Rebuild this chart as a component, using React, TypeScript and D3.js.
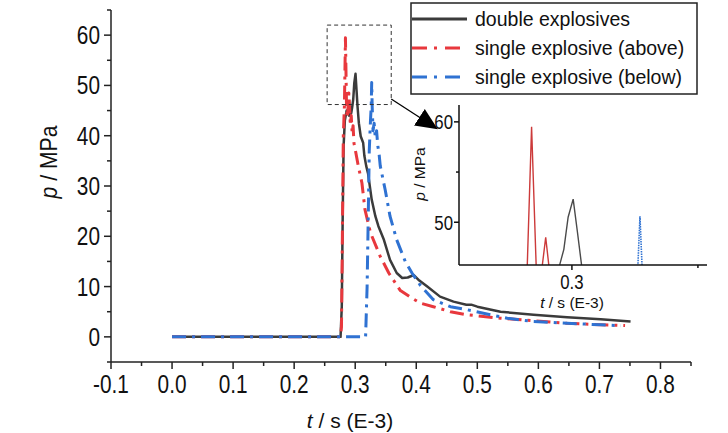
import React from 'react';
import * as d3 from 'd3';

// double explosives
const tDouble = [0, 0.276, 0.278, 0.2795, 0.281, 0.283, 0.286, 0.29, 0.2935, 0.2952, 0.2968, 0.2985, 0.3005, 0.3022, 0.3038, 0.306, 0.309, 0.313, 0.315, 0.318, 0.321, 0.327, 0.333, 0.338, 0.347, 0.357, 0.368, 0.377, 0.386, 0.396, 0.405, 0.418, 0.439, 0.461, 0.482, 0.49, 0.5, 0.538, 0.592, 0.647, 0.702, 0.751];
const pDouble = [0, 0, 6, 24, 38, 43, 45, 44, 44.5, 45.8, 47.3, 50.5, 52.3, 49, 45.8, 42.5, 39.9, 38.6, 36, 34, 32.5, 27.3, 24, 22, 19.3, 15.3, 12.7, 11.7, 11.8, 12.3, 11.2, 10, 8.0, 7.0, 6.4, 6.4, 6.0, 5.0, 4.4, 3.9, 3.5, 3.05];

// single explosive (above)
const tAbove = [0, 0.276, 0.2775, 0.279, 0.2805, 0.2823, 0.284, 0.2858, 0.287, 0.2883, 0.2896, 0.2908, 0.292, 0.2935, 0.295, 0.2965, 0.298, 0.3, 0.305, 0.311, 0.316, 0.325, 0.341, 0.355, 0.374, 0.393, 0.407, 0.428, 0.456, 0.483, 0.538, 0.592, 0.647, 0.702, 0.742];
const pAbove = [0, 0, 2, 20, 40, 45.8, 59.5, 45.8, 43.5, 45.8, 48.5, 45.8, 42, 44, 40.5, 42, 38.5, 37.3, 34, 30.6, 25.3, 20.7, 16, 12.7, 9.2, 7.7, 6.7, 6.0, 5.0, 4.4, 3.7, 3.2, 2.7, 2.4, 2.25];

// single explosive (below)
const tBelow = [0, 0.317, 0.3195, 0.3215, 0.323, 0.325, 0.3262, 0.327, 0.3278, 0.3292, 0.331, 0.333, 0.335, 0.337, 0.339, 0.341, 0.349, 0.357, 0.368, 0.382, 0.393, 0.407, 0.428, 0.456, 0.483, 0.51, 0.549, 0.592, 0.647, 0.702, 0.735];
const pBelow = [0, 0, 10, 25, 37, 43, 45.8, 50.6, 45.8, 41, 42.5, 39.5, 41, 38, 36.5, 34, 29.3, 24, 19.3, 15, 12.7, 10.2, 7.4, 6.0, 5.4, 4.7, 3.7, 3.05, 2.7, 2.4, 2.2];

const seriesNames = ['double explosives', 'single explosive (above)', 'single explosive (below)'];
const xTicks = [-0.1, 0, 0.1, 0.2, 0.3, 0.4, 0.5, 0.6, 0.7, 0.8];
const yTicks = [0, 10, 20, 30, 40, 50, 60];
const insetXTicks = [0.3];
const insetYTicks = [50, 60];
const zoomBox = { t: [0.254, 0.359], p: [46.2, 62] };

const W = 728;
const H = 433;
const sans = "'Liberation Sans', Arial, sans-serif";

const colors = ['#3b3b3b', '#e8383d', '#2f72d2'];
const insetColors = ['#4a4a4a', '#cc3a3a', '#2f72d2'];
const dashes = [undefined, '14,6,3,6', '14,6,3,6'];

const zip = (t: number[], p: number[]) => t.map((d, i) => [d, p[i]] as [number, number]);
const series = [zip(tDouble, pDouble), zip(tAbove, pAbove), zip(tBelow, pBelow)];

// condensed look of the tick labels (no narrow font installed)
const Narrow = ({ x, y, anchor, size, children }: { x: number; y: number; anchor: string; size: number; children: React.ReactNode }) => (
  <text transform={`translate(${x},${y}) scale(0.8,1)`} textAnchor={anchor} fontFamily={sans} fontSize={size} fill="#111">
    {children}
  </text>
);

export default function App() {
  // main axes
  const x = d3.scaleLinear().domain([-0.1, 0.85]).range([111, 691]);
  const y = d3.scaleLinear().domain([-5, 65]).range([362, 10]);
  const line = d3.line<[number, number]>().x(d => x(d[0])).y(d => y(d[1]));

  // inset axes
  const xi = d3.scaleLinear().domain([0.2552, 0.3536]).range([459, 707]);
  const yi = d3.scaleLinear().domain([45.74, 61.68]).range([265, 105]);
  const lineI = d3.line<[number, number]>().x(d => xi(d[0])).y(d => yi(d[1]));

  const xMinor = d3.range(-0.1, 0.851, 0.05);
  const yMinor = d3.range(-5, 65.1, 5);

  return (
    <svg width={W} height={H} style={{ position: 'absolute', left: 0, top: 0, background: '#fff' }}>
      <defs>
        <clipPath id="insetClip">
          <rect x={459} y={105} width={248} height={160} />
        </clipPath>
        <marker id="arrowHead" viewBox="0 0 10 10" refX="9" refY="5" markerWidth="22" markerHeight="22" markerUnits="userSpaceOnUse" orient="auto">
          <path d="M0,0.5 L10,5 L0,9.5 Z" fill="#000" />
        </marker>
      </defs>

      {/* main axes */}
      <g stroke="#222" strokeWidth={1.5}>
        <line x1={x(-0.1)} x2={x(0.85)} y1={362} y2={362} />
        <line x1={111} x2={111} y1={y(-5)} y2={y(65)} />
        {xMinor.map((v, i) => (
          <line key={'xm' + i} x1={x(v)} x2={x(v)} y1={362} y2={i % 2 === 0 ? 369 : 366} />
        ))}
        {yMinor.map((v, i) => (
          <line key={'ym' + i} x1={111} x2={i % 2 === 1 ? 104 : 107} y1={y(v)} y2={y(v)} />
        ))}
      </g>
      {xTicks.map(v => (
        <Narrow key={'xt' + v} x={x(v)} y={393} anchor="middle" size={26}>{v.toFixed(1)}</Narrow>
      ))}
      {yTicks.map(v => (
        <Narrow key={'yt' + v} x={100} y={y(v) + 9} anchor="end" size={26}>{v}</Narrow>
      ))}
      <text x={350} y={428} textAnchor="middle" fontFamily={sans} fontSize={21} fill="#111">
        <tspan fontStyle="italic">t</tspan> / s (E-3)
      </text>
      <text transform="translate(57,162) rotate(-90) scale(0.92,1)" textAnchor="middle" fontFamily={sans} fontSize={23} fill="#111">
        <tspan fontStyle="italic">p</tspan> / MPa
      </text>

      {/* main series */}
      {series.map((s, i) => (
        <path key={'s' + i} d={line(s) ?? ''} fill="none" stroke={colors[i]} strokeWidth={i === 0 ? 2.5 : 3}
          strokeDasharray={dashes[i]} strokeLinejoin="round" />
      ))}

      {/* zoom box + arrow */}
      <rect x={x(zoomBox.t[0])} y={y(zoomBox.p[1])} width={x(zoomBox.t[1]) - x(zoomBox.t[0])}
        height={y(zoomBox.p[0]) - y(zoomBox.p[1])} fill="none" stroke="#333" strokeWidth={1} strokeDasharray="4,3" />
      <line x1={x(zoomBox.t[1])} y1={99} x2={436} y2={128} stroke="#000" strokeWidth={1.3} markerEnd="url(#arrowHead)" />

      {/* inset */}
      <g clipPath="url(#insetClip)">
        {series.map((s, i) => (
          <path key={'i' + i} d={lineI(s) ?? ''} fill="none" stroke={insetColors[i]} strokeWidth={i === 2 ? 1.6 : 1.4}
            strokeDasharray={i === 2 ? '1.5,1' : undefined} />
        ))}
      </g>
      <g stroke="#111" strokeWidth={1.5}>
        <line x1={459} x2={707} y1={265} y2={265} />
        <line x1={459} x2={459} y1={265} y2={105} />
        {insetXTicks.map(v => <line key={'ixt' + v} x1={xi(v)} x2={xi(v)} y1={265} y2={270} />)}
        <line x1={xi(0.35)} x2={xi(0.35)} y1={265} y2={268} />
        {insetYTicks.map(v => <line key={'iyt' + v} x1={459} x2={454} y1={yi(v)} y2={yi(v)} />)}
        <line x1={459} x2={456} y1={yi(55)} y2={yi(55)} />
      </g>
      {insetXTicks.map(v => (
        <Narrow key={'ixl' + v} x={xi(v)} y={289} anchor="middle" size={21}>{v.toFixed(1)}</Narrow>
      ))}
      {insetYTicks.map(v => (
        <Narrow key={'iyl' + v} x={453} y={yi(v) + 7.5} anchor="end" size={21}>{v}</Narrow>
      ))}
      <text x={572} y={308} textAnchor="middle" fontFamily={sans} fontSize={15.5} fill="#111">
        <tspan fontStyle="italic">t</tspan> / s (E-3)
      </text>
      <text transform="translate(425,174) rotate(-90)" textAnchor="middle" fontFamily={sans} fontSize={15.5} fill="#111">
        <tspan fontStyle="italic">p</tspan> / MPa
      </text>

      {/* legend */}
      <rect x={411} y={3} width={286} height={91} fill="#fff" stroke="#222" strokeWidth={1.5} />
      {seriesNames.map((name, i) => (
        <g key={'lg' + i}>
          <line x1={412} x2={467} y1={19 + i * 29} y2={19 + i * 29} stroke={colors[i]} strokeWidth={3}
            strokeDasharray={i === 0 ? undefined : '15,7,3,8'} />
          <text x={475} y={26 + i * 29} fontFamily={sans} fontSize={19.5} fill="#111">{name}</text>
        </g>
      ))}
    </svg>
  );
}
